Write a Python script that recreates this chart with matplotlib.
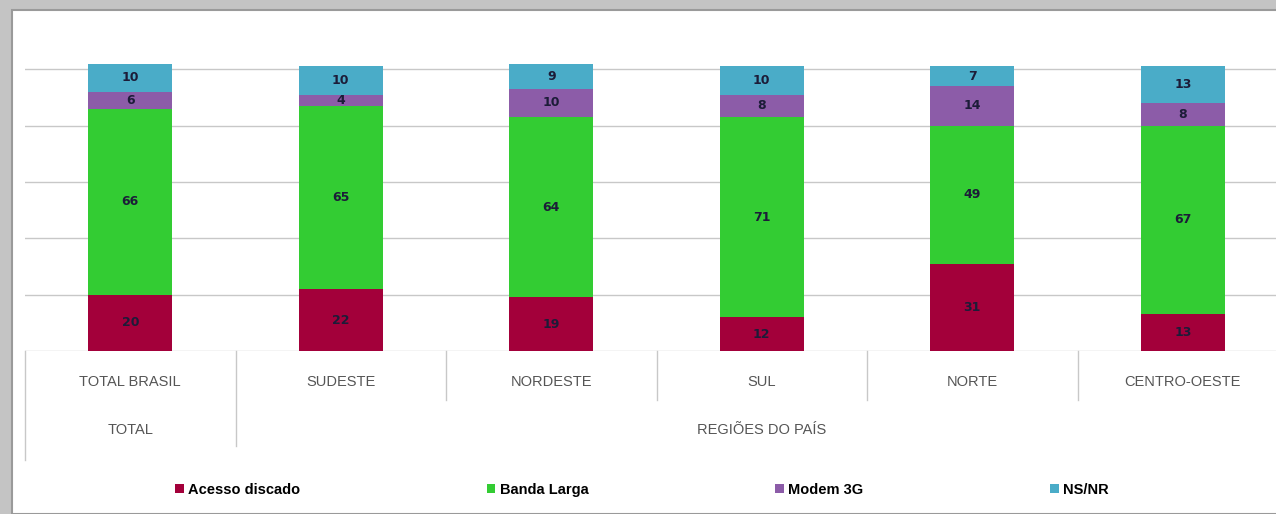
import numpy as np
import matplotlib.pyplot as plt
from matplotlib.patches import Rectangle, Patch

# dados
regioes = ['TOTAL BRASIL', 'SUDESTE', 'NORDESTE', 'SUL', 'NORTE', 'CENTRO-OESTE']
acesso_discado = [20, 22, 19, 12, 31, 13]
banda_larga = [66, 65, 64, 71, 49, 67]
modem_3g = [6, 4, 10, 8, 14, 8]
ns_nr = [10, 10, 9, 10, 7, 13]
series = ['Acesso discado', 'Banda Larga', 'Modem 3G', 'NS/NR']
cores = ['#A3003A', '#33CC33', '#8C5CA8', '#4AACC8']

plt.rcParams['font.family'] = ['Liberation Sans', 'DejaVu Sans']

fig = plt.figure(figsize=(12.76, 5.14), dpi=100, facecolor='#c4c4c4')
# painel branco do slide
fig.patches.append(Rectangle((12 / 1276, 0), 1, (514 - 10) / 514,
                             transform=fig.transFigure, facecolor='white',
                             edgecolor='#9a9a9a', lw=1.5, zorder=-10))

ax = fig.add_axes([25 / 1276, (514 - 351) / 514, 1 - 25 / 1276, 341 / 514])
ax.set_facecolor('none')
x = np.arange(len(regioes))
largura = 0.4

dados = [acesso_discado, banda_larga, modem_3g, ns_nr]
base = np.zeros(len(regioes))
for vals, cor in zip(dados, cores):
    vals = np.array(vals)
    barras = ax.bar(x, vals, largura, bottom=base, color=cor, zorder=3)
    ax.bar_label(barras, labels=[str(v) for v in vals], label_type='center',
                 fontsize=9, fontweight='bold', color='#1c1c38', family='DejaVu Sans')
    base += vals

ax.set_xlim(-0.5, -0.5 + 1251 / 210.5)
ax.set_ylim(0, 121)
for y in [20, 40, 60, 80, 100]:
    ax.axhline(y, color='#c8c8c8', lw=1, zorder=1)
ax.axhline(0, color='#c8c8c8', lw=1, zorder=1)
for s in ax.spines.values():
    s.set_visible(False)
ax.set_xticks([])
ax.set_yticks([])

# rotulos das categorias e separadores
tr = ax.get_xaxis_transform()
for i, r in enumerate(regioes):
    ax.text(i, -0.091, r, transform=tr, ha='center', va='center',
            fontsize=10.5, color='#555555')
ax.text(0, -0.232, 'TOTAL', transform=tr, ha='center', va='center',
        fontsize=10.5, color='#555555')
ax.text(3, -0.232, 'REGIÕES DO PAÍS', transform=tr, ha='center', va='center',
        fontsize=10.5, color='#555555')
ax.plot([-0.5, -0.5], [0, -0.32], transform=tr, color='#c8c8c8', lw=1, clip_on=False)
ax.plot([0.5, 0.5], [0, -0.28], transform=tr, color='#c8c8c8', lw=1, clip_on=False)
for i in range(1, 5):
    ax.plot([i + 0.5, i + 0.5], [0, -0.145], transform=tr, color='#c8c8c8', lw=1, clip_on=False)

handles = [Patch(facecolor=c, label=s) for s, c in zip(series, cores)]
fig.legend(handles=handles, ncol=4, loc='center', bbox_to_anchor=(0.503, 0.047),
           frameon=False, handlelength=0.6, handleheight=0.6,
           handletextpad=0.3, columnspacing=12.8,
           prop={'weight': 'bold', 'size': 10.5})

fig.savefig('out.png', dpi=100, facecolor=fig.get_facecolor())
